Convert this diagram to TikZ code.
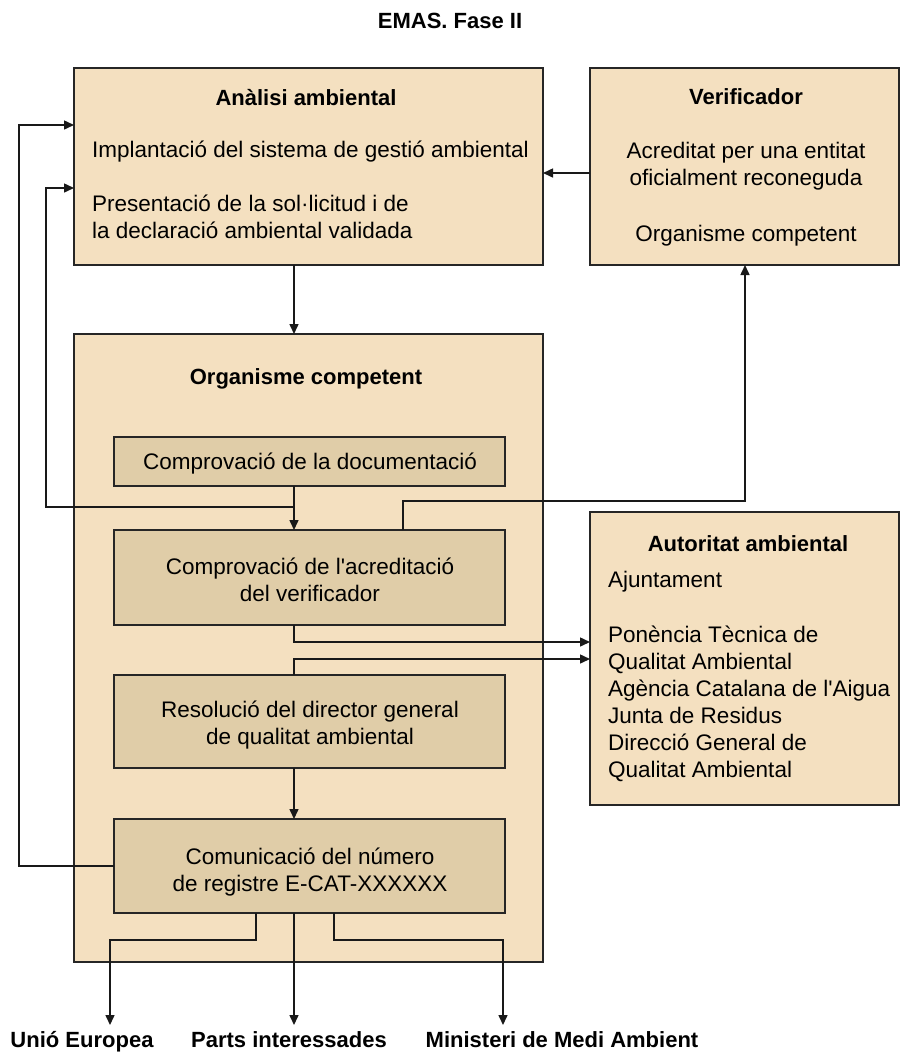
\documentclass[tikz,border=0pt]{standalone}
\usepackage{fontspec}
\setmainfont{Liberation Sans}[Ligatures=TeXOff]
\usetikzlibrary{arrows.meta}
\definecolor{outerfill}{HTML}{F4E0C0}
\definecolor{innerfill}{HTML}{E0CDA8}
\begin{document}
\begin{tikzpicture}[x=1pt,y=-1pt,
  outerbox/.style={draw=black!85, line width=1.5pt, fill=outerfill, anchor=north west, inner sep=0pt, outer sep=0pt},
  innerbox/.style={outerbox, fill=innerfill},
  hd/.style={font=\bfseries\fontsize{22}{26}\selectfont, anchor=base, inner sep=0pt},
  tx/.style={font=\fontsize{22.5}{27}\selectfont, anchor=base, inner sep=0pt},
  txl/.style={tx, anchor=base west},
  conn/.style={line width=1.5pt, draw=black!90},
  arr/.style={conn, -{Triangle[length=10pt,width=9pt]}}
]
\useasboundingbox[fill=white] (0,0) rectangle (902,1053);

% boxes
\node[outerbox, minimum width=469pt, minimum height=197pt] (anal) at (74,68) {};
\node[outerbox, minimum width=309pt, minimum height=197pt] (verif) at (590,68) {};
\node[outerbox, minimum width=469pt, minimum height=628pt] (org) at (74,334) {};
\node[outerbox, minimum width=309pt, minimum height=293pt] (auto) at (590,512) {};
\node[innerbox, minimum width=391pt, minimum height=49pt] (doc) at (114,437) {};
\node[innerbox, minimum width=391pt, minimum height=95pt] (acred) at (114,530) {};
\node[innerbox, minimum width=391pt, minimum height=93pt] (resol) at (114,675) {};
\node[innerbox, minimum width=391pt, minimum height=94pt] (comu) at (114,819) {};

% coordinates
\coordinate (j1) at (294,507);
\coordinate (ueend) at (110,1025);
\coordinate (ptend) at (294,1025);
\coordinate (mmend) at (503,1025);

% connectors
\draw[arr] (294,0 |- anal.south) -- (294,0 |- org.north);
\draw[arr] (verif.west |- 0,173) -- (anal.east |- 0,173);
\draw[arr] (294,0 |- doc.south) -- (294,0 |- acred.north);
\draw[arr] (j1) -- (46,507) -- (46,188) -- (anal.west |- 0,188);
\draw[arr] (comu.west) -- (19,0 |- comu.west) -- (19,125) -- (anal.west |- 0,125);
\draw[arr] (403,0 |- acred.north) -- (403,501) -- (745,501) -- (745,0 |- verif.south);
\draw[arr] (294,0 |- acred.south) |- (auto.west |- 0,642);
\draw[arr] (294,0 |- resol.north) |- (auto.west |- 0,659);
\draw[arr] (294,0 |- resol.south) -- (294,0 |- comu.north);
\draw[arr] (256,0 |- comu.south) -- (256,940) -| (ueend);
\draw[arr] (294,0 |- comu.south) -- (ptend);
\draw[arr] (334,0 |- comu.south) -- (334,940) -| (mmend);

% texts
\node[hd] (title) at (450,28) {EMAS. Fase II};

\node[hd] (analh) at (306,105) {Anàlisi ambiental};
\node[txl] (anal1) at (92,157) {Implantació del sistema de gestió ambiental};
\node[txl] (anal2) at (92,211) {Presentació de la sol·licitud i de};
\node[txl] (anal3) at (92,238) {la declaració ambiental validada};

\node[hd] (verifh) at (746,104) {Verificador};
\node[tx] (verif1) at (746,158) {Acreditat per una entitat};
\node[tx] (verif2) at (746,185) {oficialment reconeguda};
\node[tx] (verif3) at (746,241) {Organisme competent};

\node[hd] (orgh) at (306,384) {Organisme competent};
\node[tx] (doct) at (310,469) {Comprovació de la documentació};
\node[tx] (acred1) at (310,574) {Comprovació de l'acreditació};
\node[tx] (acred2) at (310,601) {del verificador};
\node[tx] (resol1) at (310,717) {Resolució del director general};
\node[tx] (resol2) at (310,744) {de qualitat ambiental};
\node[tx] (comu1) at (310,864) {Comunicació del número};
\node[tx] (comu2) at (310,891) {de registre E-CAT-XXXXXX};

\node[hd] (autoh) at (748,551) {Autoritat ambiental};
\node[txl] (auto1) at (608,587) {Ajuntament};
\node[txl] (auto2) at (608,642) {Ponència Tècnica de};
\node[txl] (auto3) at (608,669) {Qualitat Ambiental};
\node[txl] (auto4) at (608,696) {Agència Catalana de l'Aigua};
\node[txl] (auto5) at (608,723) {Junta de Residus};
\node[txl] (auto6) at (608,750) {Direcció General de};
\node[txl] (auto7) at (608,777) {Qualitat Ambiental};

\node[hd] (ue) at (82,1047) {Unió Europea};
\node[hd] (pt) at (289,1047) {Parts interessades};
\node[hd] (mm) at (562,1047) {Ministeri de Medi Ambient};
\end{tikzpicture}
\end{document}
